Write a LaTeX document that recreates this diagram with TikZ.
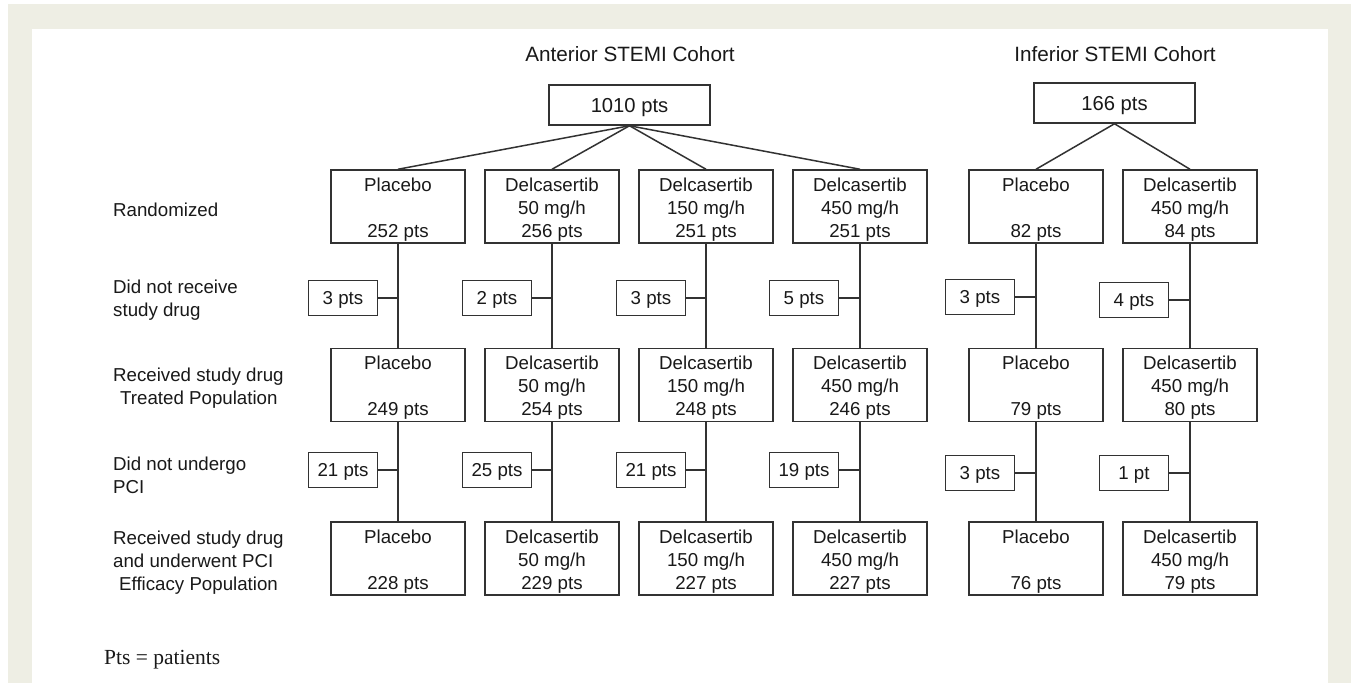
\documentclass[tikz,border=0pt]{standalone}
\usepackage{fontspec}
\setmainfont{Liberation Sans}
\newfontfamily\notefont{Liberation Serif}
\definecolor{framebeige}{RGB}{238,238,228}
\definecolor{linegray}{RGB}{50,50,50}
\newcommand\armlines[3]{\rule{0pt}{19.5pt}#1\\#2\\#3}
\tikzset{
	armbox/.style = {draw=linegray, line width=1.5pt, minimum width=134pt, minimum height=73pt, inner sep=0pt, align=center},
	topbox/.style = {draw=linegray, line width=1.5pt, minimum width=161pt, minimum height=40pt, inner sep=0pt, text height=18pt, text depth=3.5pt, font=\fontsize{20.2pt}{24pt}\selectfont},
	lossbox/.style = {draw=linegray, line width=1.5pt, minimum width=69pt, minimum height=35pt, inner sep=0pt, text height=17pt, text depth=3.6pt},
	cohort/.style = {font=\fontsize{20.7pt}{25pt}\selectfont},
	rowlabel/.style = {anchor=west, align=left, inner sep=0pt},
	link/.style = {draw=linegray, line width=1.5pt}
}
\begin{document}
\begin{tikzpicture}[x=1pt, y=-1pt, font=\fontsize{18.7pt}{23pt}\selectfont, text=black!90]
	\useasboundingbox (0,0) rectangle (1351,683);
	\fill [framebeige] (8,4) rectangle (1351,683);
	\fill [white] (32,29) rectangle (1328,683);

	\node [cohort] (anttitle) at (630,54) {Anterior STEMI Cohort};
	\node [cohort] (inftitle) at (1115,54) {Inferior STEMI Cohort};
	\node [topbox] (ant) at (629.5,105) {1010 pts};
	\node [topbox] (inf) at (1114.5,103) {166 pts};

	\node [rowlabel] (lrand) at (113,210) {Randomized};
	\node [rowlabel] (lnorx) at (113,300) {Did not receive\\study drug};
	\node [rowlabel] (ltreat) at (113,388) {Received study drug\\\hspace{7pt}Treated Population};
	\node [rowlabel] (lnopci) at (113,475) {Did not undergo\\PCI};
	\node [rowlabel] (leff) at (113,563) {Received study drug\\and underwent PCI\\\hspace{6pt}Efficacy Population};

	\node [armbox] (rand1) at (398,206.5) {\armlines{Placebo}{\mbox{}}{252 pts}};
	\node [armbox] (rand2) at (552,206.5) {\armlines{Delcasertib}{50 mg/h}{256 pts}};
	\node [armbox] (rand3) at (706,206.5) {\armlines{Delcasertib}{150 mg/h}{251 pts}};
	\node [armbox] (rand4) at (860,206.5) {\armlines{Delcasertib}{450 mg/h}{251 pts}};
	\node [armbox] (rand5) at (1036,206.5) {\armlines{Placebo}{\mbox{}}{82 pts}};
	\node [armbox] (rand6) at (1190,206.5) {\armlines{Delcasertib}{450 mg/h}{84 pts}};

	\node [lossbox] (norx1) at (343,298) {3 pts};
	\node [lossbox] (norx2) at (497,298) {2 pts};
	\node [lossbox] (norx3) at (651,298) {3 pts};
	\node [lossbox] (norx4) at (804,298) {5 pts};
	\node [lossbox] (norx5) at (980,297) {3 pts};
	\node [lossbox] (norx6) at (1134,300) {4 pts};

	\node [armbox] (treat1) at (398,385) {\armlines{Placebo}{\mbox{}}{249 pts}};
	\node [armbox] (treat2) at (552,385) {\armlines{Delcasertib}{50 mg/h}{254 pts}};
	\node [armbox] (treat3) at (706,385) {\armlines{Delcasertib}{150 mg/h}{248 pts}};
	\node [armbox] (treat4) at (860,385) {\armlines{Delcasertib}{450 mg/h}{246 pts}};
	\node [armbox] (treat5) at (1036,385) {\armlines{Placebo}{\mbox{}}{79 pts}};
	\node [armbox] (treat6) at (1190,385) {\armlines{Delcasertib}{450 mg/h}{80 pts}};

	\node [lossbox] (nopci1) at (343,470) {21 pts};
	\node [lossbox] (nopci2) at (497,470) {25 pts};
	\node [lossbox] (nopci3) at (651,470) {21 pts};
	\node [lossbox] (nopci4) at (804,470) {19 pts};
	\node [lossbox] (nopci5) at (980,473) {3 pts};
	\node [lossbox] (nopci6) at (1134,473) {1 pt};

	\node [armbox] (eff1) at (398,558.5) {\armlines{Placebo}{\mbox{}}{228 pts}};
	\node [armbox] (eff2) at (552,558.5) {\armlines{Delcasertib}{50 mg/h}{229 pts}};
	\node [armbox] (eff3) at (706,558.5) {\armlines{Delcasertib}{150 mg/h}{227 pts}};
	\node [armbox] (eff4) at (860,558.5) {\armlines{Delcasertib}{450 mg/h}{227 pts}};
	\node [armbox] (eff5) at (1036,558.5) {\armlines{Placebo}{\mbox{}}{76 pts}};
	\node [armbox] (eff6) at (1190,558.5) {\armlines{Delcasertib}{450 mg/h}{79 pts}};

	\draw [link] (ant.south) -- (rand1.north);
	\draw [link] (ant.south) -- (rand2.north);
	\draw [link] (ant.south) -- (rand3.north);
	\draw [link] (ant.south) -- (rand4.north);
	\draw [link] (inf.south) -- (rand5.north);
	\draw [link] (inf.south) -- (rand6.north);

	\foreach \k in {1,...,6} {
		\draw [link] (rand\k) -- (treat\k);
		\draw [link] (treat\k) -- (eff\k);
		\draw [link] (norx\k.east) -- (norx\k.east -| rand\k);
		\draw [link] (nopci\k.east) -- (nopci\k.east -| treat\k);
	}

	\node [anchor=west, inner sep=0pt, font=\notefont\fontsize{21.5pt}{26pt}\selectfont] (note) at (104,660) {Pts = patients};
\end{tikzpicture}
\end{document}
